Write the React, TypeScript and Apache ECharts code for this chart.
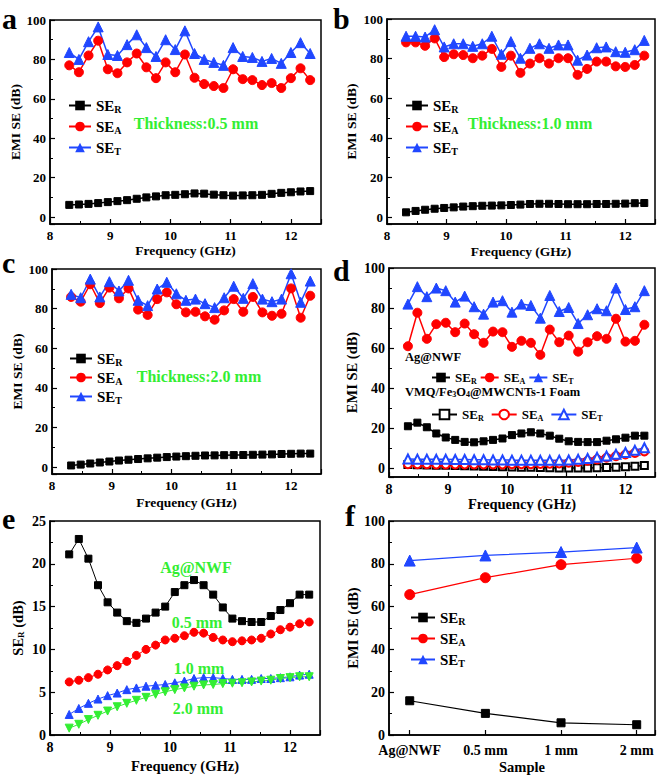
import React, { useEffect, useRef } from "react";
import * as echarts from "echarts";

const frequencyGHz = [8.32, 8.48, 8.64, 8.8, 8.96, 9.12, 9.28, 9.44, 9.6, 9.76, 9.92, 10.08, 10.24, 10.4, 10.56, 10.72, 10.88, 11.04, 11.2, 11.36, 11.52, 11.68, 11.84, 12.0, 12.16, 12.32];

// Thickness 0.5 mm
const seR_05 = [6.2, 6.4, 6.7, 7.1, 7.6, 8.1, 8.6, 9.3, 10.0, 10.5, 11.1, 11.3, 11.6, 12.0, 11.9, 11.4, 11.1, 10.9, 11.0, 11.1, 11.3, 11.8, 12.3, 12.6, 13.0, 13.2];
const seA_05 = [77, 73.5, 82, 89.5, 75, 73, 78.5, 83, 76, 70.5, 78.5, 73.5, 82.5, 70.7, 67.5, 66.5, 65.5, 75, 70, 69.5, 67, 68, 65.5, 70.5, 75.5, 69.5];
const seT_05 = [83.5, 80, 89, 96.5, 82.5, 82, 87.5, 92.5, 86, 81.5, 90, 85, 94.5, 83, 80, 78.5, 77, 86, 81.5, 81, 79, 80.5, 78, 83.5, 88.5, 83];

// Thickness 1.0 mm
const seR_10 = [2.4, 3.1, 3.7, 4.2, 4.6, 4.9, 5.3, 5.5, 5.7, 5.8, 5.9, 6.1, 6.3, 6.6, 6.7, 6.7, 6.6, 6.5, 6.5, 6.5, 6.6, 6.6, 6.7, 6.8, 7.0, 7.1];
const seA_10 = [88.2, 88.2, 86.5, 90.2, 80.8, 82.2, 81.8, 80.2, 81.5, 84.9, 75.8, 81.5, 72.8, 77.5, 80.2, 77.5, 80.2, 80.2, 71.8, 74.8, 78.5, 78.5, 76.1, 75.8, 76.8, 81.5];
const seT_10 = [91.3, 91.3, 90.9, 94.6, 85.9, 87.5, 87.5, 86.2, 87.5, 91.3, 82.2, 88.6, 80.2, 85.2, 87.5, 85.2, 86.9, 86.9, 79.2, 81.8, 85.5, 85.9, 83.5, 83.2, 84.5, 89.2];

// Thickness 2.0 mm
const seR_20 = [0.8, 1.25, 1.8, 2.3, 2.8, 3.3, 3.7, 4.05, 4.4, 4.75, 5.05, 5.3, 5.5, 5.7, 5.85, 5.9, 6.0, 6.05, 6.1, 6.2, 6.3, 6.4, 6.6, 6.7, 6.8, 6.8];
const seA_20 = [85.9, 83.5, 92.3, 82.8, 90.6, 85.2, 90.2, 79.5, 76.8, 84.8, 88.2, 82.2, 78.1, 78.4, 76.1, 74.4, 79.1, 84.8, 78.4, 85.9, 78.1, 76.4, 77.4, 90.2, 75.4, 86.5];
const seT_20 = [87.2, 85.5, 94.9, 85.9, 93.6, 88.9, 94.3, 84.2, 81.5, 89.9, 93.3, 87.5, 84.2, 84.8, 82.5, 80.5, 85.5, 91.3, 85.2, 92.6, 84.8, 83.5, 84.8, 97.6, 83.2, 93.9];

// Ag@NWF
const seR_Ag = [21.1, 22.9, 20.6, 17.5, 15.5, 14.3, 13.3, 13.1, 13.6, 14.3, 15.0, 16.7, 17.5, 18.1, 17.5, 16.4, 14.9, 13.6, 13.3, 13.2, 13.2, 13.9, 14.6, 15.4, 16.4, 16.4];
const seA_Ag = [61, 77.7, 64.7, 72, 72.7, 68, 72.3, 67, 62.7, 68.3, 68, 60.7, 63.7, 62.7, 56.7, 69.3, 63, 66.3, 58.3, 63, 66, 64.7, 74.7, 63.3, 63.7, 71.7];
const seT_Ag = [82, 90.7, 85.7, 90, 88.7, 83, 86, 80.7, 77, 83, 83.7, 78, 82, 81.3, 75, 86.3, 78.3, 80.3, 72.3, 76.7, 79.7, 78.7, 90, 79.3, 80.7, 88.7];

// VMQ/Fe3O4@MWCNTs-1 Foam
const seR_VMQ = [2.0, 1.9, 1.8, 1.7, 1.6, 1.5, 1.4, 1.3, 1.2, 1.0, 0.9, 0.8, 0.7, 0.6, 0.5, 0.4, 0.3, 0.3, 0.3, 0.3, 0.4, 0.5, 0.7, 0.9, 1.2, 1.5];
const seA_VMQ = [2.2, 2.2, 2.2, 2.1, 2.1, 2.1, 2.1, 2.1, 2.1, 2.1, 2.1, 2.2, 2.2, 2.2, 2.3, 2.4, 2.6, 2.9, 3.3, 3.9, 4.6, 5.4, 6.2, 7.0, 7.8, 8.6];
const seT_VMQ = [4.8, 4.7, 4.7, 4.6, 4.6, 4.5, 4.5, 4.4, 4.4, 4.3, 4.3, 4.2, 4.2, 4.2, 4.1, 4.1, 4.2, 4.3, 4.6, 5.0, 5.6, 6.3, 7.1, 8.0, 9.1, 10.4];

// Panel f
const samples = ["Ag@NWF", "0.5 mm", "1 mm", "2 mm"];
const avgSER = [16.0, 10.1, 5.7, 4.8];
const avgSEA = [65.6, 73.5, 79.6, 82.6];
const avgSET = [81.5, 83.9, 85.5, 87.6];

const FONT = '"Liberation Serif", "Times New Roman", serif';
const BLACK = "#000000";
const RED = "#ff0000";
const BLUE = "#2047ff";
const GREEN = "#33ee33";

function pts(xs: number[], ys: number[]) {
  return xs.map((x, i) => [x, ys[i]]);
}

function freqAxis(gi: number, fs: number, nameGap: number) {
  return {
    type: "value",
    gridIndex: gi,
    min: 8,
    max: 12.5,
    minInterval: 1,
    maxInterval: 1,
    axisLine: { onZero: false, lineStyle: { color: BLACK, width: 1.5 } },
    axisTick: { inside: true, length: 5, lineStyle: { color: BLACK, width: 1.2 } },
    minorTick: { show: true, splitNumber: 2, length: 3, lineStyle: { color: BLACK, width: 1 } },
    splitLine: { show: false },
    minorSplitLine: { show: false },
    axisLabel: {
      color: BLACK, fontFamily: FONT, fontWeight: "bold", fontSize: fs, margin: 5,
      formatter: (v: number) => (Number.isInteger(v) ? String(v) : ""),
    },
    name: "Frequency (GHz)",
    nameLocation: "middle",
    nameGap,
    nameTextStyle: { color: BLACK, fontFamily: FONT, fontWeight: "bold", fontSize: fs + 0.5 },
  };
}

function valAxis(gi: number, min: number, max: number, step: number, fs: number, name: string, nameGap: number) {
  return {
    type: "value",
    gridIndex: gi,
    min,
    max,
    minInterval: step,
    maxInterval: step,
    axisLine: { onZero: false, lineStyle: { color: BLACK, width: 1.5 } },
    axisTick: { inside: true, length: 5, lineStyle: { color: BLACK, width: 1.2 } },
    minorTick: { show: true, splitNumber: 2, length: 3, lineStyle: { color: BLACK, width: 1 } },
    splitLine: { show: false },
    minorSplitLine: { show: false },
    axisLabel: {
      color: BLACK, fontFamily: FONT, fontWeight: "bold", fontSize: fs, margin: 4,
      formatter: (v: number) => (Math.abs(v % step) < 1e-9 ? String(v) : ""),
    },
    name,
    nameLocation: "middle",
    nameGap,
    nameTextStyle: {
      color: BLACK, fontFamily: FONT, fontWeight: "bold", fontSize: fs + 0.5,
      rich: { sub: { fontFamily: FONT, fontWeight: "bold", fontSize: 9, padding: [6, 0, 0, 0], verticalAlign: "bottom" } },
    },
  };
}

function lineSeries(name: string, gi: number, xs: number[], ys: number[], color: string, symbol: string, size: number, lw = 1.5, extra: any = {}) {
  return {
    type: "line",
    name,
    xAxisIndex: gi,
    yAxisIndex: gi,
    data: pts(xs, ys),
    symbol,
    symbolSize: size,
    showAllSymbol: true,
    itemStyle: { color, borderColor: color },
    lineStyle: { color, width: lw },
    emphasis: { disabled: true },
    ...extra,
  };
}

function legend(left: number, top: number, names: string[], fs: number, orient: string, itemWidth: number, itemGap: number) {
  return {
    left,
    top,
    orient,
    itemWidth,
    itemHeight: 12,
    itemGap,
    data: names,
    selectedMode: false,
    formatter: (n: string) => "SE{sub|" + n.slice(-1) + "}",
    textStyle: {
      color: BLACK, fontFamily: FONT, fontWeight: "bold", fontSize: fs,
      rich: { sub: { color: BLACK, fontFamily: FONT, fontWeight: "bold", fontSize: Math.round(fs * 0.65), padding: [7, 0, 0, 0], verticalAlign: "bottom" } },
    },
  };
}

function txt(x: number, y: number, text: string, size: number, color: string, align = "center", vAlign = "middle", rich: any = undefined) {
  return {
    type: "text",
    x,
    y,
    silent: true,
    style: { text, fill: color, fontFamily: FONT, fontWeight: "bold", fontSize: size, align, verticalAlign: vAlign, rich },
  };
}

function buildOption() {
  const grids = [
    { left: 50, top: 20, width: 271, height: 204 },
    { left: 387, top: 19, width: 268, height: 205 },
    { left: 52, top: 269, width: 269, height: 205 },
    { left: 389, top: 268, width: 266, height: 209 },
    { left: 50, top: 521, width: 270, height: 214 },
    { left: 389, top: 521, width: 266, height: 214 },
  ].map((g) => ({ ...g, show: true, borderColor: BLACK, borderWidth: 1.5, backgroundColor: "transparent", containLabel: false }));

  const xAxes: any[] = [
    freqAxis(0, 13, 19),
    freqAxis(1, 13, 20),
    freqAxis(2, 13, 21),
    freqAxis(3, 14, 18),
    freqAxis(4, 14, 23),
    {
      type: "value",
      gridIndex: 5,
      min: -0.274,
      max: 3.242,
      minInterval: 1,
      maxInterval: 1,
      axisLine: { onZero: false, lineStyle: { color: BLACK, width: 1.5 } },
      axisTick: { inside: true, length: 5, lineStyle: { color: BLACK, width: 1.2 } },
      splitLine: { show: false },
      axisLabel: {
        color: BLACK, fontFamily: FONT, fontWeight: "bold", fontSize: 14, margin: 8,
        formatter: (v: number) => (Number.isInteger(v) && v >= 0 && v <= 3 ? samples[Math.abs(v)] : ""),
      },
      name: "Sample",
      nameLocation: "middle",
      nameGap: 24,
      nameTextStyle: { color: BLACK, fontFamily: FONT, fontWeight: "bold", fontSize: 14.5 },
    },
  ];

  const yAxes: any[] = [
    valAxis(0, -3.5, 100, 20, 13, "EMI SE (dB)", 26),
    valAxis(1, -3.5, 100, 20, 13, "EMI SE (dB)", 29),
    valAxis(2, -3.5, 100, 20, 13, "EMI SE (dB)", 27),
    valAxis(3, -4.2, 100, 20, 14, "EMI SE (dB)", 30),
    valAxis(4, 0, 25, 5, 14, "SE{sub|R} (dB)", 25),
    valAxis(5, 0, 100, 20, 14, "EMI SE (dB)", 24),
  ];

  const series: any[] = [
    lineSeries("a_R", 0, frequencyGHz, seR_05, BLACK, "rect", 7),
    lineSeries("a_A", 0, frequencyGHz, seA_05, RED, "circle", 9),
    lineSeries("a_T", 0, frequencyGHz, seT_05, BLUE, "triangle", 10),
    lineSeries("b_R", 1, frequencyGHz, seR_10, BLACK, "rect", 7),
    lineSeries("b_A", 1, frequencyGHz, seA_10, RED, "circle", 9),
    lineSeries("b_T", 1, frequencyGHz, seT_10, BLUE, "triangle", 10),
    lineSeries("c_R", 2, frequencyGHz, seR_20, BLACK, "rect", 7),
    lineSeries("c_A", 2, frequencyGHz, seA_20, RED, "circle", 9),
    lineSeries("c_T", 2, frequencyGHz, seT_20, BLUE, "triangle", 10),
    lineSeries("dAg_R", 3, frequencyGHz, seR_Ag, BLACK, "rect", 7),
    lineSeries("dAg_A", 3, frequencyGHz, seA_Ag, RED, "circle", 9),
    lineSeries("dAg_T", 3, frequencyGHz, seT_Ag, BLUE, "triangle", 10),
    lineSeries("dV_R", 3, frequencyGHz, seR_VMQ, BLACK, "emptyRect", 7, 1.5),
    lineSeries("dV_A", 3, frequencyGHz, seA_VMQ, RED, "emptyCircle", 8, 1.5),
    lineSeries("dV_T", 3, frequencyGHz, seT_VMQ, BLUE, "emptyTriangle", 9, 1.5),
    lineSeries("e_Ag", 4, frequencyGHz, seR_Ag, BLACK, "rect", 7, 1),
    lineSeries("e_05", 4, frequencyGHz, seR_05, RED, "circle", 8, 1),
    lineSeries("e_10", 4, frequencyGHz, seR_10, BLUE, "triangle", 8, 1),
    lineSeries("e_20", 4, frequencyGHz, seR_20, GREEN, "triangle", 8, 1, { symbolRotate: 180 }),
    lineSeries("f_R", 5, [0, 1, 2, 3], avgSER, BLACK, "rect", 8, 1.2),
    lineSeries("f_A", 5, [0, 1, 2, 3], avgSEA, RED, "circle", 10, 1.2),
    lineSeries("f_T", 5, [0, 1, 2, 3], avgSET, BLUE, "triangle", 11, 1.2),
  ];

  const legends = [
    legend(63, 93, ["a_R", "a_A", "a_T"], 15, "vertical", 22, 5),
    legend(400, 93, ["b_R", "b_A", "b_T"], 15, "vertical", 22, 5),
    legend(64, 346, ["c_R", "c_A", "c_T"], 15, "vertical", 22, 3),
    legend(426, 366, ["dAg_R", "dAg_A", "dAg_T"], 13, "horizontal", 18, 3),
    legend(426, 403, ["dV_R", "dV_A", "dV_T"], 13, "horizontal", 25, 7),
    legend(405, 605, ["f_R", "f_A", "f_T"], 15, "vertical", 24, 5),
  ];

  const fe = { s: { fontFamily: FONT, fontWeight: "bold", fontSize: 8, fill: BLACK, padding: [4, 0, 0, 0], verticalAlign: "bottom" } };

  const graphic = [
    txt(2, 3, "a", 30, BLACK, "left", "top"),
    txt(333, 3, "b", 30, BLACK, "left", "top"),
    txt(2, 247, "c", 30, BLACK, "left", "top"),
    txt(333, 255, "d", 30, BLACK, "left", "top"),
    txt(2, 503, "e", 30, BLACK, "left", "top"),
    txt(345, 500, "f", 30, BLACK, "left", "top"),
    txt(196, 123, "Thickness:0.5 mm", 16, GREEN),
    txt(530, 123, "Thickness:1.0 mm", 16, GREEN),
    txt(199, 376, "Thickness:2.0 mm", 16, GREEN),
    txt(405, 357, "Ag@NWF", 12.5, BLACK, "left", "middle"),
    txt(405, 392, "VMQ/Fe{s|3}O{s|4}@MWCNTs-1 Foam", 12.5, BLACK, "left", "middle", fe),
    txt(196, 567, "Ag@NWF", 16, GREEN),
    txt(197, 622, "0.5 mm", 16, GREEN),
    txt(199, 668, "1.0 mm", 16, GREEN),
    txt(198, 708, "2.0 mm", 16, GREEN),
  ];

  return {
    animation: false,
    backgroundColor: "#ffffff",
    grid: grids,
    xAxis: xAxes,
    yAxis: yAxes,
    series,
    legend: legends,
    graphic,
  };
}

export default function App() {
  const ref = useRef<HTMLDivElement>(null);
  useEffect(() => {
    if (!ref.current) return;
    const chart = echarts.init(ref.current, null, { renderer: "svg" });
    chart.setOption(buildOption() as any);
    return () => chart.dispose();
  }, []);
  return (
    <div
      ref={ref}
      style={{ position: "fixed", left: 0, top: 0, width: 660, height: 777, background: "#ffffff" }}
    />
  );
}
